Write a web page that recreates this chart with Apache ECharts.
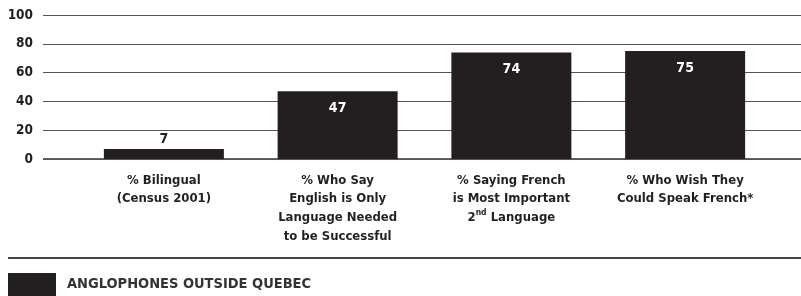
<!DOCTYPE html>
<html>
<head>
<meta charset="utf-8">
<script src="https://cdn.jsdelivr.net/npm/echarts@6/dist/echarts.min.js"></script>
<style>
  html, body { margin: 0; padding: 0; background: #fff; }
  #chart { width: 801px; height: 296px; }
</style>
</head>
<body>
<div id="chart"></div>
<script>
// 数据
var categories = [
  '% Bilingual\n(Census 2001)',
  '% Who Say\nEnglish is Only\nLanguage Needed\nto be Successful',
  '% Saying French\nis Most Important\n2nd Language',
  '% Who Wish They\nCould Speak French*'
];
var values = [7, 47, 74, 75];
var yTicks = [0, 20, 40, 60, 80, 100];
var seriesName = 'ANGLOPHONES OUTSIDE QUEBEC';

(function () {
  var myChart = echarts.init(document.getElementById('chart'));
  var font = '"DejaVu Sans Condensed", "DejaVu Sans", sans-serif';
  var barColor = '#231f20';

  var option = {
    animation: false,
    textStyle: { fontFamily: font },
    // 两个grid：一个画网格线，一个放柱子
    grid: [
      { left: 43, right: 0, top: 15, bottom: 137 },
      { left: 77, right: 29, top: 15, bottom: 137 }
    ],
    legend: {
      left: 8,
      top: 273,
      padding: 0,
      itemWidth: 48,
      itemHeight: 23,
      icon: 'rect',
      textStyle: {
        fontFamily: font,
        fontWeight: 'bold',
        fontSize: 14.5,
        color: '#333',
        padding: [0, 0, 0, 6]
      },
      data: [seriesName]
    },
    xAxis: [
      {
        gridIndex: 0,
        type: 'category',
        data: [''],
        show: false
      },
      {
        gridIndex: 1,
        type: 'category',
        data: categories,
        axisLine: { show: false },
        axisTick: { show: false },
        axisLabel: {
          margin: 12,
          interval: 0,
          color: '#231f20',
          fontFamily: font,
          fontWeight: 'bold',
          fontSize: 13,
          lineHeight: 18.7,
          formatter: function (v) {
            return v.replace('2nd', '2{sup|nd}');
          },
          rich: {
            sup: {
              fontFamily: font,
              fontWeight: 'bold',
              fontSize: 8.5,
              lineHeight: 18.7,
              verticalAlign: 'top',
              padding: [0, 0, 6, 0]
            }
          }
        }
      }
    ],
    yAxis: [
      {
        gridIndex: 0,
        type: 'value',
        min: yTicks[0],
        max: yTicks[yTicks.length - 1],
        interval: 20,
        axisLine: { show: false },
        axisTick: { show: false },
        axisLabel: {
          margin: 10,
          color: '#231f20',
          fontFamily: font,
          fontWeight: 'bold',
          fontSize: 13.5
        },
        splitLine: {
          lineStyle: { color: '#555', width: 1 }
        }
      },
      {
        gridIndex: 1,
        type: 'value',
        min: 0,
        max: 100,
        show: false
      }
    ],
    graphic: [
      // 底部的0轴线
      {
        type: 'line',
        shape: { x1: 43, y1: 159, x2: 801, y2: 159 },
        style: { stroke: '#666', lineWidth: 2 }
      },
      // 图例上方的分隔线
      {
        type: 'line',
        shape: { x1: 8, y1: 258, x2: 801, y2: 258 },
        style: { stroke: '#444', lineWidth: 2 }
      }
    ],
    series: [
      {
        name: seriesName,
        type: 'bar',
        xAxisIndex: 1,
        yAxisIndex: 1,
        barWidth: 120,
        itemStyle: { color: barColor },
        data: values.map(function (v) {
          var small = v < 15;
          return {
            value: v,
            label: {
              show: true,
              position: small ? 'top' : 'insideTop',
              distance: small ? 3 : 10,
              color: small ? '#231f20' : '#fff',
              fontFamily: font,
              fontWeight: 'bold',
              fontSize: 14
            }
          };
        })
      }
    ]
  };
  myChart.setOption(option);
  window.addEventListener('resize', function () {
    myChart.resize();
  });
})();
</script>
</body>
</html>
